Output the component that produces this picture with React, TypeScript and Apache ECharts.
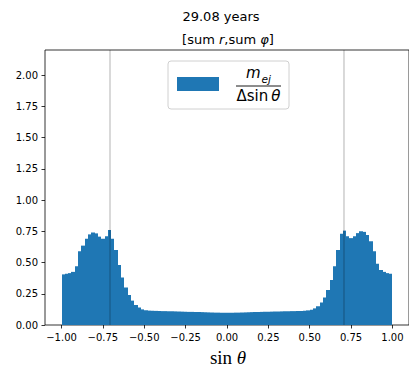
import React, { useEffect, useRef } from "react";
import * as echarts from "echarts";

// Histogram of sin(theta): 100 equal bins on [-1, 1]
const binEdgesStart = -1;
const binWidth = 0.02;
const massPerBin: number[] = [
  0.405, 0.41, 0.415, 0.425, 0.47, 0.59, 0.635, 0.69, 0.725, 0.74,
  0.733, 0.707, 0.69, 0.71, 0.76, 0.69, 0.6, 0.48, 0.38, 0.3,
  0.24, 0.195, 0.16, 0.14, 0.125, 0.118, 0.115, 0.114, 0.113, 0.112,
  0.111, 0.111, 0.11, 0.11, 0.109, 0.108, 0.107, 0.106, 0.105, 0.105,
  0.104, 0.104, 0.103, 0.102, 0.101, 0.1, 0.099, 0.099, 0.098, 0.098,
  0.098, 0.098, 0.099, 0.099, 0.1, 0.101, 0.102, 0.103, 0.104, 0.104,
  0.105, 0.106, 0.106, 0.107, 0.108, 0.108, 0.109, 0.11, 0.11, 0.111,
  0.111, 0.112, 0.112, 0.114, 0.117, 0.122, 0.133, 0.15, 0.18, 0.22,
  0.28, 0.36, 0.47, 0.6, 0.73, 0.755, 0.71, 0.695, 0.71, 0.735,
  0.75, 0.745, 0.72, 0.67, 0.59, 0.49, 0.44, 0.425, 0.415, 0.41,
];

// Reference lines at sin(theta) = ±sin(45°)
const guideLines: number[] = [-0.7071, 0.7071];

const xTicks: number[] = [-1, -0.75, -0.5, -0.25, 0, 0.25, 0.5, 0.75, 1];
const yTicks: number[] = [0, 0.25, 0.5, 0.75, 1, 1.25, 1.5, 1.75, 2];

const BLUE = "#1f77b4";
const fmt = (v: number) => v.toFixed(2).replace("-", "\u2212");

export default function App() {
  const ref = useRef<HTMLDivElement>(null);

  useEffect(() => {
    if (!ref.current) return;
    const chart = echarts.init(ref.current, null, { renderer: "svg" });

    const bins = massPerBin.map((v, i) => {
      const lo = +(binEdgesStart + i * binWidth).toFixed(4);
      return [lo, +(lo + binWidth).toFixed(4), v];
    });

    const tickStyle = { color: "#000", width: 0.8 };
    const labelStyle = {
      formatter: fmt,
      color: "#000",
      fontSize: 10,
      margin: 7,
      fontFamily: "DejaVu Sans",
    };

    chart.setOption({
      animation: false,
      textStyle: { fontFamily: "DejaVu Sans" },
      grid: {
        left: 45,
        right: -4,
        top: 50,
        bottom: 44,
        show: true,
        borderColor: "#000",
        borderWidth: 0.8,
        backgroundColor: "transparent",
      },
      xAxis: {
        type: "value",
        min: -1.1,
        max: 1.1,
        axisLine: { show: false, onZero: false },
        splitLine: { show: false },
        axisTick: { show: true, length: 3.5, customValues: xTicks, lineStyle: tickStyle },
        axisLabel: { ...labelStyle, customValues: xTicks },
      },
      yAxis: {
        type: "value",
        min: 0,
        max: 2.2,
        axisLine: { show: false, onZero: false },
        splitLine: { show: false },
        axisTick: { show: true, length: 3.5, customValues: yTicks, lineStyle: tickStyle },
        axisLabel: { ...labelStyle, customValues: yTicks },
      },
      series: [
        {
          type: "custom",
          data: bins,
          encode: { x: [0, 1], y: 2 },
          renderItem: (_params: any, api: any) => {
            const p0 = api.coord([api.value(0), api.value(2)]);
            const p1 = api.coord([api.value(1), 0]);
            // snap bin edges to whole pixels so neighbouring bars meet cleanly
            const xl = Math.round(p0[0]);
            const xr = Math.round(p1[0]);
            return {
              type: "rect",
              shape: {
                x: xl,
                y: p0[1],
                width: xr - xl,
                height: p1[1] - p0[1],
              },
              style: { fill: BLUE },
            };
          },
          z: 2,
        },
        {
          type: "custom",
          data: guideLines.map((v) => [v, 0]),
          encode: { x: 0, y: 1 },
          renderItem: (_params: any, api: any) => {
            const b = api.coord([api.value(0), 0]);
            const t = api.coord([api.value(0), 2.2]);
            return {
              type: "line",
              shape: { x1: b[0], y1: b[1], x2: t[0], y2: t[1] },
              style: { stroke: "rgba(0,0,0,0.3)", lineWidth: 1 },
            };
          },
          z: 3,
        },
      ],
      graphic: [
        {
          type: "text",
          x: 221,
          y: 16,
          style: {
            text: "29.08 years",
            align: "center",
            verticalAlign: "middle",
            fill: "#000",
            fontSize: 13,
            fontFamily: "DejaVu Sans",
          },
        },
        {
          type: "text",
          x: 228,
          y: 39,
          style: {
            text: "{n|[sum }{i|r}{n|,sum }{i|\u03c6}{n|]}",
            align: "center",
            verticalAlign: "middle",
            rich: {
              n: { fontSize: 13, fontFamily: "DejaVu Sans", fill: "#000" },
              i: {
                fontSize: 13,
                fontFamily: "DejaVu Sans",
                fontStyle: "italic",
                fill: "#000",
              },
            },
          },
        },
        // legend box
        {
          type: "rect",
          shape: { x: 168, y: 61, width: 121, height: 48, r: 3 },
          style: { fill: "rgba(255,255,255,0.8)", stroke: "#d0d0d0", lineWidth: 1 },
          z: 10,
        },
        {
          type: "rect",
          shape: { x: 177, y: 77, width: 42, height: 14 },
          style: { fill: BLUE },
          z: 11,
        },
        {
          type: "text",
          x: 246,
          y: 73,
          style: {
            text: "m",
            verticalAlign: "middle",
            fontSize: 15,
            fontStyle: "italic",
            fontFamily: "DejaVu Sans",
            fill: "#000",
          },
          z: 11,
        },
        {
          type: "text",
          x: 261.5,
          y: 79,
          style: {
            text: "ej",
            verticalAlign: "middle",
            fontSize: 10.5,
            fontStyle: "italic",
            fontFamily: "DejaVu Sans",
            fill: "#000",
          },
          z: 11,
        },
        {
          type: "line",
          shape: { x1: 236, y1: 86, x2: 281, y2: 86 },
          style: { stroke: "#000", lineWidth: 0.9 },
          z: 11,
        },
        {
          type: "text",
          x: 258.5,
          y: 96,
          style: {
            text: "{n|\u0394sin\u2009}{i|\u03b8}",
            align: "center",
            verticalAlign: "middle",
            rich: {
              n: { fontSize: 15, fontFamily: "DejaVu Sans", fill: "#000" },
              i: {
                fontSize: 15,
                fontFamily: "DejaVu Sans",
                fontStyle: "italic",
                fill: "#000",
              },
            },
          },
          z: 11,
        },
        // x-axis title
        {
          type: "text",
          x: 228,
          y: 357,
          style: {
            text: "{n|sin }{i|\u03b8}",
            align: "center",
            verticalAlign: "middle",
            rich: {
              n: { fontSize: 19, fontFamily: "Liberation Serif", fill: "#000" },
              i: {
                fontSize: 19,
                fontFamily: "Liberation Serif",
                fontStyle: "italic",
                fill: "#000",
              },
            },
          },
        },
      ],
    });

    return () => chart.dispose();
  }, []);

  return (
    <div
      ref={ref}
      style={{ position: "absolute", left: 0, top: 0, width: 409, height: 369 }}
    />
  );
}
